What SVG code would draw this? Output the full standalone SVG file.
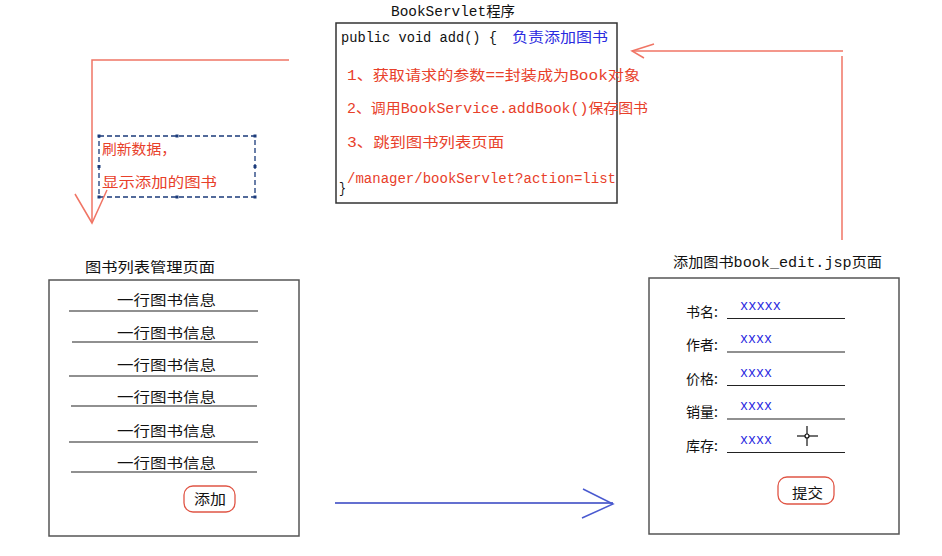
<svg xmlns="http://www.w3.org/2000/svg" width="942" height="556" viewBox="0 0 942 556">
<defs>
<style>
text{font-family:"Liberation Mono","Noto Sans CJK SC",monospace;font-size:14px;}
.cn{font-family:"Noto Sans CJK SC","Liberation Sans",sans-serif;}
.k{fill:#111;}
.r{fill:#e8402a;}
.b{fill:#2a2ae0;}
.box{fill:#fff;stroke:#555;stroke-width:1.5;}
.rl{fill:none;stroke:#f07565;stroke-width:1.5;}
.ul{stroke:#222;stroke-width:1.2;}
.btn{fill:#fff;stroke:#e05545;stroke-width:1.3;}
</style>
</defs>
<rect width="942" height="556" fill="#fff"/>

<g id="servlet">
<text class="k" x="391" y="16" textLength="124" lengthAdjust="spacingAndGlyphs">BookServlet程序</text>
<rect x="336" y="23" width="281" height="180" fill="#fff" stroke="#333" stroke-width="1.5"/>
<text class="k" x="341" y="42" textLength="156" lengthAdjust="spacingAndGlyphs">public void add() {</text>
<text class="b cn" x="512" y="42" textLength="96" lengthAdjust="spacingAndGlyphs">负责添加图书</text>
<text class="r" x="347" y="80" textLength="293" lengthAdjust="spacingAndGlyphs">1、获取请求的参数==封装成为Book对象</text>
<text class="r" x="347" y="113" textLength="301" lengthAdjust="spacingAndGlyphs">2、调用BookService.addBook()保存图书</text>
<text class="r" x="347" y="147" textLength="157" lengthAdjust="spacingAndGlyphs">3、跳到图书列表页面</text>
<text class="r" x="347" y="183" textLength="269" lengthAdjust="spacingAndGlyphs">/manager/bookServlet?action=list</text>
<text class="k" x="339" y="193" textLength="7" lengthAdjust="spacingAndGlyphs">}</text>
</g>

<g id="note">
<rect x="99" y="136" width="156" height="61" fill="none" stroke="#1a3a7a" stroke-width="1.3" stroke-dasharray="5,3"/>
<g fill="#1a3a7a">
<rect x="97.5" y="134.5" width="3" height="3"/><rect x="175.5" y="134.5" width="3" height="3"/><rect x="253.5" y="134.5" width="3" height="3"/>
<rect x="97.5" y="165" width="3" height="3"/><rect x="253.5" y="165" width="3" height="3"/>
<rect x="97.5" y="195.5" width="3" height="3"/><rect x="175.5" y="195.5" width="3" height="3"/><rect x="253.5" y="195.5" width="3" height="3"/>
</g>
<text class="r cn" x="102" y="154" textLength="74" lengthAdjust="spacingAndGlyphs">刷新数据，</text>
<text class="r cn" x="102" y="187" textLength="115" lengthAdjust="spacingAndGlyphs">显示添加的图书</text>
</g>

<g id="list-page">
<text class="k cn" x="85" y="272" textLength="130" lengthAdjust="spacingAndGlyphs">图书列表管理页面</text>
<rect class="box" x="49" y="280" width="250" height="256"/>
<text class="k cn" x="117" y="305" textLength="99" lengthAdjust="spacingAndGlyphs">一行图书信息</text>
<line class="ul" x1="69" y1="311" x2="258" y2="311"/>
<text class="k cn" x="117" y="338" textLength="99" lengthAdjust="spacingAndGlyphs">一行图书信息</text>
<line class="ul" x1="72" y1="342" x2="258" y2="342"/>
<text class="k cn" x="117" y="370" textLength="99" lengthAdjust="spacingAndGlyphs">一行图书信息</text>
<line class="ul" x1="69" y1="376" x2="258" y2="376"/>
<text class="k cn" x="117" y="402" textLength="99" lengthAdjust="spacingAndGlyphs">一行图书信息</text>
<line class="ul" x1="71" y1="406" x2="257" y2="406"/>
<text class="k cn" x="117" y="436" textLength="99" lengthAdjust="spacingAndGlyphs">一行图书信息</text>
<line class="ul" x1="69" y1="442" x2="258" y2="442"/>
<text class="k cn" x="117" y="468" textLength="99" lengthAdjust="spacingAndGlyphs">一行图书信息</text>
<line class="ul" x1="71" y1="472" x2="257" y2="472"/>
<rect class="btn" x="184" y="486" width="51" height="26" rx="9"/>
<text class="k cn" x="194" y="504" textLength="32" lengthAdjust="spacingAndGlyphs">添加</text>
</g>

<g id="edit-page">
<text class="k" x="673" y="267" textLength="209" lengthAdjust="spacingAndGlyphs">添加图书book_edit.jsp页面</text>
<rect class="box" x="649" y="278" width="250" height="256"/>
<text class="k cn" x="686" y="317">书名:</text>
<text class="b" x="740" y="310" textLength="41" lengthAdjust="spacingAndGlyphs">xxxxx</text>
<line class="ul" x1="727" y1="318.5" x2="845" y2="318.5"/>
<text class="k cn" x="686" y="350">作者:</text>
<text class="b" x="740" y="343" textLength="32" lengthAdjust="spacingAndGlyphs">xxxx</text>
<line class="ul" x1="727" y1="352" x2="845" y2="352"/>
<text class="k cn" x="686" y="384">价格:</text>
<text class="b" x="740" y="377" textLength="32" lengthAdjust="spacingAndGlyphs">xxxx</text>
<line class="ul" x1="727" y1="385.5" x2="845" y2="385.5"/>
<text class="k cn" x="686" y="417">销量:</text>
<text class="b" x="740" y="410" textLength="32" lengthAdjust="spacingAndGlyphs">xxxx</text>
<line class="ul" x1="727" y1="419" x2="845" y2="419"/>
<text class="k cn" x="686" y="451">库存:</text>
<text class="b" x="740" y="444" textLength="32" lengthAdjust="spacingAndGlyphs">xxxx</text>
<line class="ul" x1="727" y1="452.5" x2="845" y2="452.5"/>
<g stroke="#111" stroke-width="1.2" fill="none">
<line x1="797" y1="436" x2="818" y2="436"/>
<line x1="807" y1="426" x2="807" y2="446"/>
<circle cx="807" cy="436" r="2" fill="#fff"/>
</g>
<rect class="btn" x="778" y="477" width="56" height="27" rx="9"/>
<text class="k cn" x="792" y="498" textLength="31" lengthAdjust="spacingAndGlyphs">提交</text>
</g>

<g id="connectors">
<polyline class="rl" points="289,60 92,60 92,223"/>
<polyline class="rl" points="75,194 92,223 107,190"/>
<line class="rl" x1="842" y1="56" x2="842" y2="240"/>
<line class="rl" x1="843" y1="51" x2="632" y2="51"/>
<polyline class="rl" points="654,44 632,51 644,58"/>
<line x1="335" y1="503" x2="613" y2="503" stroke="#3040c0" stroke-width="1.5"/>
<polyline points="583,489 613,504 582,518" fill="none" stroke="#4a5ad0" stroke-width="1.5"/>
</g>
</svg>
